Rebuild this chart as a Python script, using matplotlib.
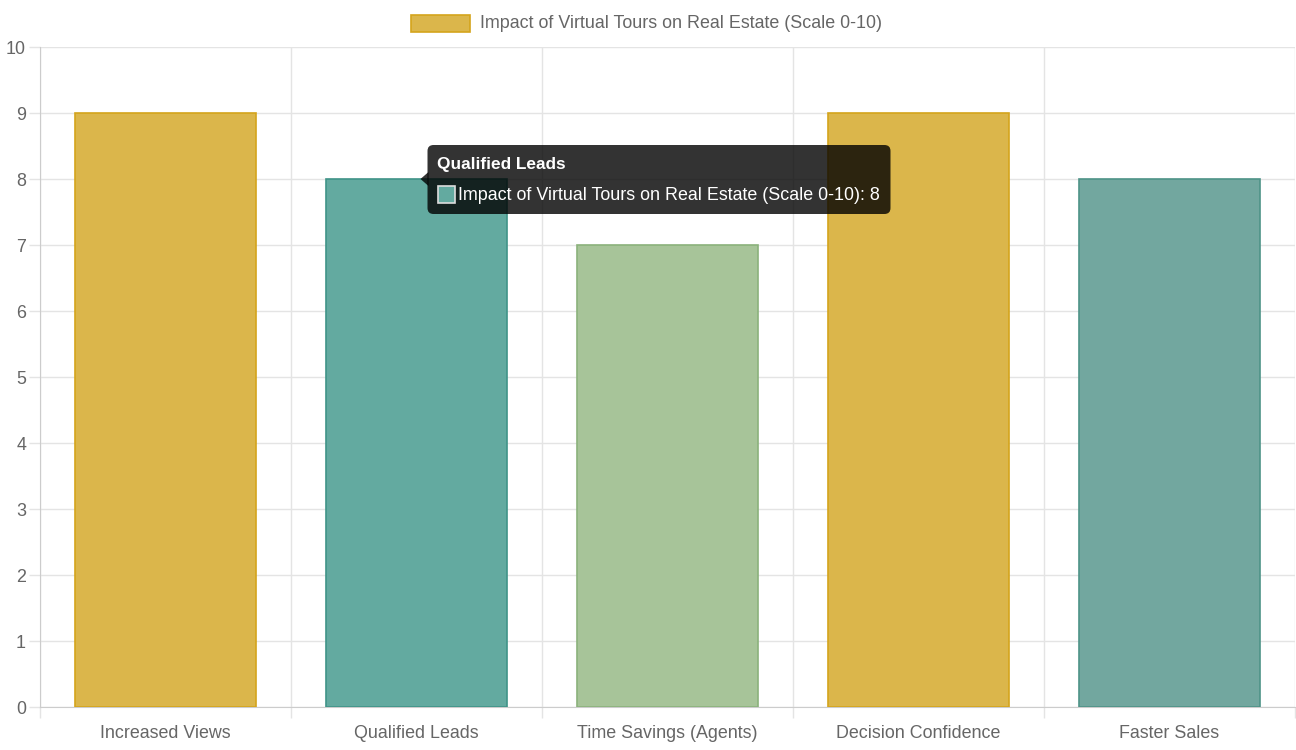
import matplotlib
matplotlib.use("Agg")
import matplotlib.pyplot as plt
from matplotlib.patches import FancyBboxPatch, Polygon, Rectangle
from matplotlib.transforms import IdentityTransform

plt.rcParams['font.family'] = ['Liberation Sans', 'DejaVu Sans']

# data
categories = ['Increased Views', 'Qualified Leads', 'Time Savings (Agents)',
              'Decision Confidence', 'Faster Sales']
values = [9, 8, 7, 9, 8]
series_label = 'Impact of Virtual Tours on Real Estate (Scale 0-10)'
fill_colors = ['#DBB64B', '#63AAA0', '#A7C499', '#DBB64B', '#72A79F']
edge_colors = ['#D4A41C', '#3F9488', '#8BB27C', '#D4A41C', '#4E9388']
hover_index = 1

W, H = 1296, 750
fig = plt.figure(figsize=(W / 100, H / 100), dpi=100)
ax = fig.add_axes([40 / W, 1 - 707 / H, (1295 - 40) / W, (707 - 47) / H])

x = list(range(len(categories)))
ax.bar(x, values, width=0.72, color=fill_colors, edgecolor=edge_colors,
       linewidth=1.2, zorder=3)

ax.set_xlim(-0.5, len(categories) - 0.5)
ax.set_ylim(0, 10)
ax.set_yticks(range(0, 11))
ax.set_xticks(x)
ax.set_xticklabels(categories)
ax.set_xticks([i - 0.5 for i in range(len(categories) + 1)], minor=True)

fs = 12.9
grid_c = '#e4e4e4'
ax.grid(axis='y', color=grid_c, linewidth=1, zorder=0)
ax.grid(axis='x', which='minor', color=grid_c, linewidth=1, zorder=0)
ax.tick_params(axis='x', which='major', length=0, pad=13, labelsize=fs, labelcolor='#666666')
ax.tick_params(axis='x', which='minor', length=8, color=grid_c, width=1, direction='out')
ax.tick_params(axis='y', length=8, color=grid_c, width=1, pad=2, labelsize=fs, labelcolor='#666666')
for s in ['top', 'right']:
    ax.spines[s].set_visible(False)
ax.spines['left'].set_color('#cccccc')
ax.spines['bottom'].set_color('#cccccc')

# legend
fig.patches.append(Rectangle((411, H - 32), 59, 17, transform=IdentityTransform(),
                             facecolor=fill_colors[0], edgecolor=edge_colors[0], linewidth=1.2))
fig.text(480 / W, 1 - 24 / H, series_label, ha='left', va='center',
         fontsize=fs, color='#666666')

# tooltip anchored to the hovered bar
fig.canvas.draw()
tx, ty = ax.transData.transform((hover_index, values[hover_index]))
bx0 = tx + 11
bw, bh = 463, 69
by0 = ty - 35
tip = Polygon([(tx + 4, ty), (bx0 + 1, ty + 7), (bx0 + 1, ty - 7)], closed=True,
              transform=IdentityTransform(), facecolor=(0, 0, 0, 0.8),
              edgecolor='none', zorder=10)
box = FancyBboxPatch((bx0, by0), bw, bh, boxstyle='round,pad=0,rounding_size=6',
                     transform=IdentityTransform(), facecolor=(0, 0, 0, 0.8),
                     edgecolor='none', zorder=10)
fig.patches.append(tip)
fig.patches.append(box)
fig.text((bx0 + 10) / W, (by0 + bh - 20) / H, categories[hover_index],
         ha='left', va='center', fontsize=12.4, fontweight='bold',
         color='white', zorder=11)
fig.patches.append(Rectangle((bx0 + 10, by0 + 11), 17, 17, transform=IdentityTransform(),
                             facecolor=fill_colors[hover_index], edgecolor='#dddddd',
                             linewidth=1.2, zorder=11))
fig.text((bx0 + 30) / W, (by0 + 19) / H,
         f'{series_label}: {values[hover_index]}', ha='left', va='center',
         fontsize=fs, color='white', zorder=11)

fig.savefig('out.png', dpi=100)
